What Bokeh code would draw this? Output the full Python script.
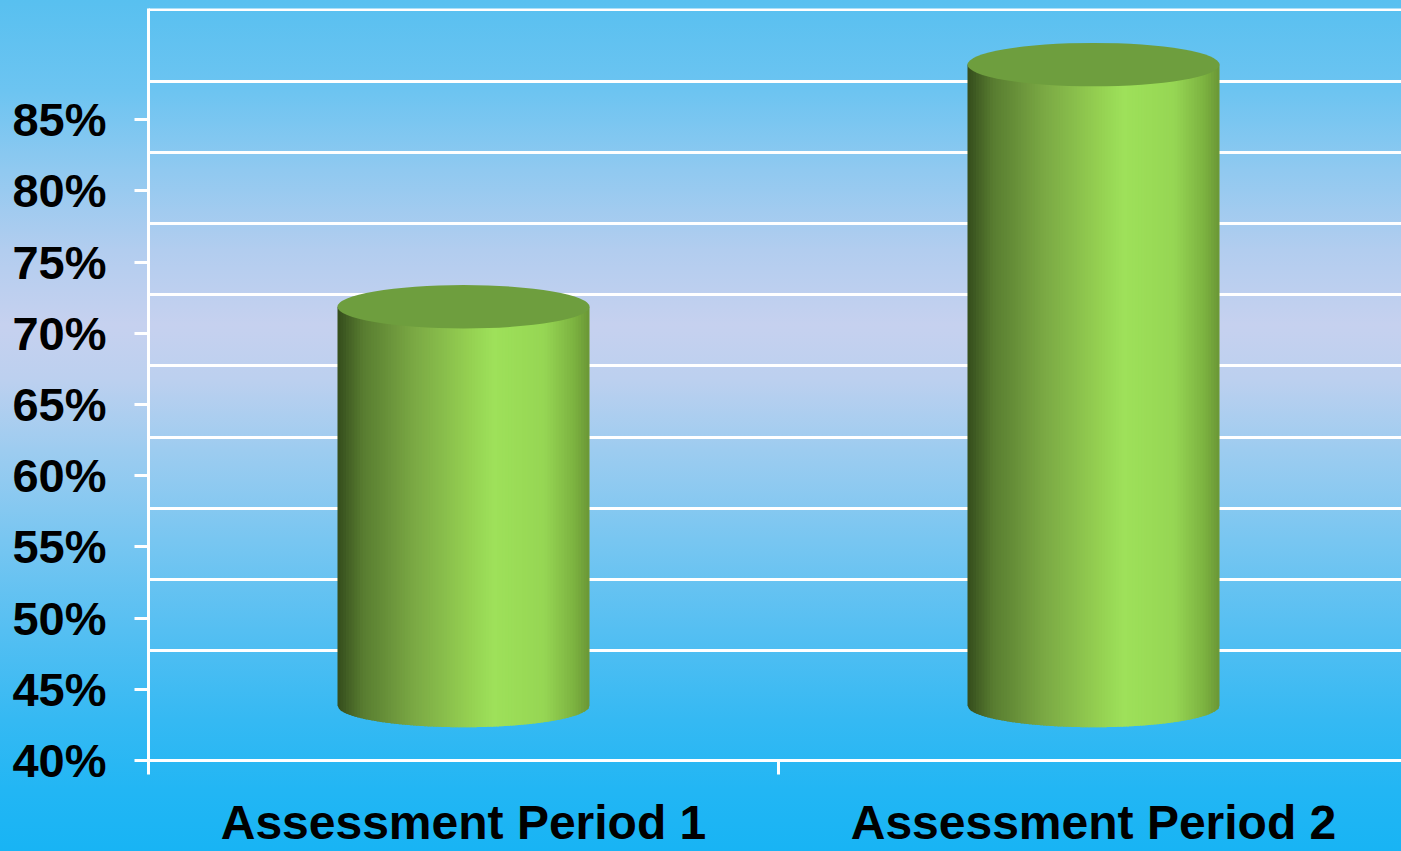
import numpy as np
from bokeh.plotting import figure
from bokeh.models import FixedTicker, PrintfTickFormatter, Range1d, GlobalInlineStyleSheet
from bokeh.embed import file_html
from bokeh.resources import INLINE

# ---------------- data ----------------
categories = ["Assessment Period 1", "Assessment Period 2"]
values = [68, 85]
y_base = 40
y_ticks = [40, 45, 50, 55, 60, 65, 70, 75, 80, 85]
grid_levels = [45, 50, 55, 60, 65, 70, 75, 80, 85, 90]

# ---------------- style constants ----------------
BAR_WIDTH = 0.4          # in category units
BAR_DEPTH = 3.86         # 3-D depth shift of the cylinders (y units)
GRID_DEPTH = 2.7         # 3-D depth shift of the back-wall grid (y units)
ELL_H = 3.05             # height of the cylinder end ellipses (y units)
N_STRIPES = 90
TOP_COLOR = "#6e9e3e"
stops = [(0.00, (52, 76, 28)), (0.10, (88, 124, 48)), (0.30, (122, 168, 68)),
         (0.50, (146, 204, 80)), (0.62, (158, 225, 90)), (0.82, (150, 214, 84)),
         (0.94, (124, 178, 64)), (1.00, (106, 150, 54))]


def grad(f):
    for (p0, c0), (p1, c1) in zip(stops[:-1], stops[1:]):
        if p0 <= f <= p1:
            t = (f - p0) / (p1 - p0)
            c = [int(round(a + (b - a) * t)) for a, b in zip(c0, c1)]
            return "#%02x%02x%02x" % tuple(c)
    return "#%02x%02x%02x" % stops[-1][1]


css = GlobalInlineStyleSheet(css="""
html, body { margin:0 !important; padding:0; height:100%; overflow:hidden;
  background: linear-gradient(to bottom, #58c0f0 0px, #6cc4f1 90px, #90c9f0 170px,
  #b2cdef 250px, #c6d1ef 325px, #bcd0ef 380px, #9dccf0 450px, #78c6f1 540px,
  #55bff2 630px, #35b9f3 720px, #22b6f4 790px, #18b4f4 851px); }
""")

x_end = 1253 / 630.0
p = figure(width=1401, height=851, output_backend="svg", toolbar_location=None,
           x_range=Range1d(0, x_end), y_range=Range1d(y_base, 92.8),
           min_border_left=148, min_border_right=0, min_border_top=8, min_border_bottom=91,
           border_fill_color=None, background_fill_color=None, outline_line_color=None)
p.stylesheets = [css]

# ---------------- grid ----------------
p.xgrid.visible = False
p.ygrid.ticker = FixedTicker(ticks=[g + GRID_DEPTH for g in grid_levels])
p.ygrid.grid_line_color = "white"
p.ygrid.grid_line_width = 3

# ---------------- cylinders ----------------
xs_all, ys_all, cols = [], [], []
half = BAR_WIDTH / 2
dx = BAR_WIDTH / N_STRIPES
for k, v in enumerate(values):
    xc = k + 0.5
    yb = y_base + BAR_DEPTH
    yt = v + BAR_DEPTH

    def bot(x):
        u = (x - xc) / half
        return yb - ELL_H / 2 * np.sqrt(max(0.0, 1 - u * u))

    for i in range(N_STRIPES):
        x0 = xc - half + i * dx
        x1 = min(x0 + dx * 1.6, xc + half)
        xm = np.linspace(x0, x1, 4)
        xs_all.append([x0, x1] + list(xm[::-1]))
        ys_all.append([yt, yt] + [bot(x) for x in xm[::-1]])
        cols.append(grad((i + 0.5) / N_STRIPES))

p.patches(xs_all, ys_all, fill_color=cols, line_color=None)
p.ellipse(x=[k + 0.5 for k in range(len(values))], y=[v + BAR_DEPTH for v in values],
          width=BAR_WIDTH, height=ELL_H, fill_color=TOP_COLOR, line_color=None)

# ---------------- axes ----------------
FONT = "Liberation Sans"
p.yaxis.ticker = FixedTicker(ticks=y_ticks, minor_ticks=[])
p.yaxis.formatter = PrintfTickFormatter(format="%d%%")
p.yaxis.axis_line_color = "white"
p.yaxis.axis_line_width = 3
p.yaxis.major_tick_line_color = "white"
p.yaxis.major_tick_line_width = 3
p.yaxis.major_tick_out = 14
p.yaxis.major_tick_in = 0
p.yaxis.major_label_standoff = 28
p.yaxis.major_label_text_font = FONT
p.yaxis.major_label_text_font_style = "bold"
p.yaxis.major_label_text_font_size = "47px"
p.yaxis.major_label_text_color = "black"

p.xaxis.ticker = FixedTicker(ticks=[i + 0.5 for i in range(len(categories))],
                             minor_ticks=[float(i) for i in range(len(categories) + 1)])
p.xaxis.major_label_overrides = {i + 0.5: c for i, c in enumerate(categories)}
p.xaxis.axis_line_color = "white"
p.xaxis.axis_line_width = 3
p.xaxis.major_tick_out = 0
p.xaxis.major_tick_in = 0
p.xaxis.minor_tick_line_color = "white"
p.xaxis.minor_tick_line_width = 3
p.xaxis.minor_tick_out = 14
p.xaxis.minor_tick_in = 0
p.xaxis.major_label_standoff = 21
p.xaxis.major_label_text_font = FONT
p.xaxis.major_label_text_font_style = "bold"
p.xaxis.major_label_text_font_size = "48px"
p.xaxis.major_label_text_color = "black"

open("out.html", "w").write(file_html(p, INLINE))
